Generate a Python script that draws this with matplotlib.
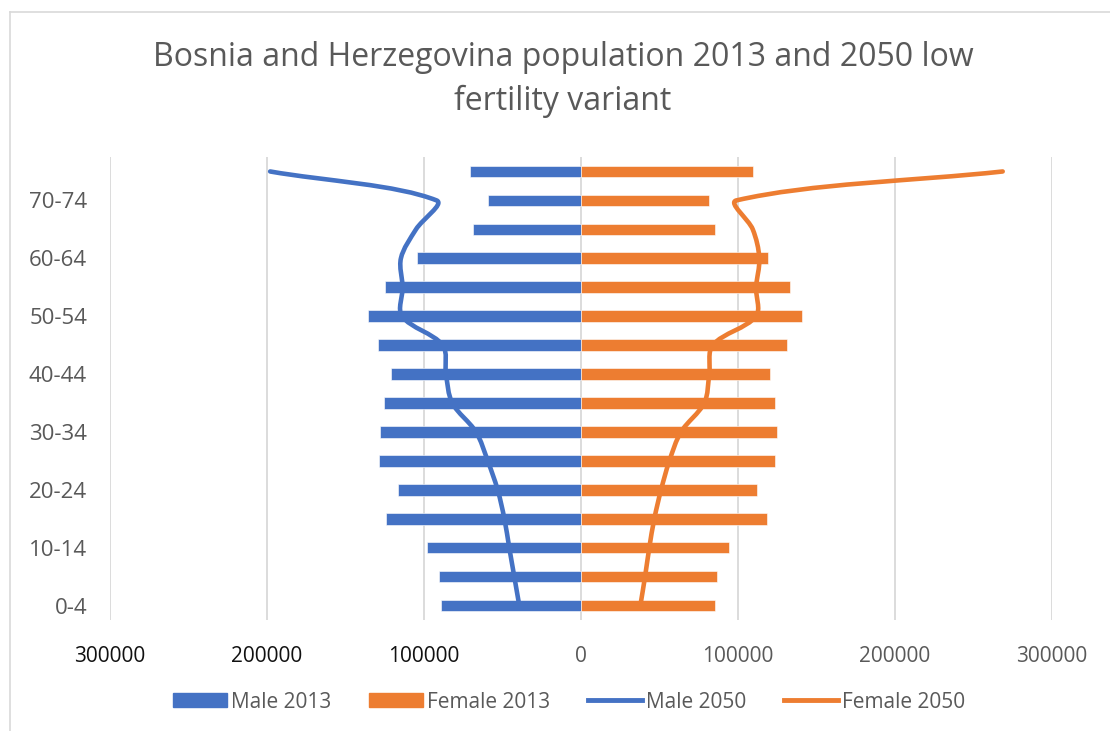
import numpy as np
import matplotlib
matplotlib.use('Agg')
import matplotlib.pyplot as plt
from matplotlib.path import Path
from matplotlib.patches import PathPatch, Patch
from matplotlib.lines import Line2D

# age groups, bottom to top
ages = ['0-4', '5-9', '10-14', '15-19', '20-24', '25-29', '30-34', '35-39',
        '40-44', '45-49', '50-54', '55-59', '60-64', '65-69', '70-74', '75+']
male2013 = [89000, 90500, 98100, 124200, 116400, 128700, 128200, 125700,
            121000, 129500, 135700, 125000, 104500, 68800, 59200, 70700]
female2013 = [85100, 86800, 94500, 118300, 111900, 123800, 124600, 123800,
              120200, 131400, 141000, 133300, 118900, 85100, 81300, 109400]
male2050 = [39300, 42500, 45700, 48800, 53100, 59400, 66900, 82000,
            86000, 88100, 114000, 113600, 114700, 105100, 92000, 198000]
female2050 = [37800, 40800, 43500, 46700, 51000, 56300, 63700, 78500,
              81700, 83900, 111500, 111500, 113600, 109400, 99000, 268600]
xticks = [-300000, -200000, -100000, 0, 100000, 200000, 300000]
xticklabels = ['300000', '200000', '100000', '0', '100000', '200000', '300000']

BLUE = '#4472C4'
ORANGE = '#ED7D31'
GREY = '#595959'
FONT = 'Open Sans'

# rough pixel size of one data unit, used only to shape the smoothing
XSCALE = 157 / 100000
YSCALE = 28.9


def smooth_path(xs, ys):
    # smoothed line through the points, chord-length cubic bezier like excel
    pts = np.column_stack([xs, ys]).astype(float)
    sc = np.array([XSCALE, YSCALE])
    q = pts * sc
    n = len(q)
    d = np.linalg.norm(np.diff(q, axis=0), axis=1)
    tang = np.zeros_like(q)
    for i in range(n):
        a = q[max(i - 1, 0)]
        b = q[min(i + 1, n - 1)]
        span = (d[i - 1] if i > 0 else 0) + (d[i] if i < n - 1 else 0)
        tang[i] = (b - a) / span
    verts = [pts[0]]
    codes = [Path.MOVETO]
    for i in range(n - 1):
        c1 = (q[i] + tang[i] * d[i] / 3) / sc
        c2 = (q[i + 1] - tang[i + 1] * d[i] / 3) / sc
        verts += [c1, c2, pts[i + 1]]
        codes += [Path.CURVE4] * 3
    return Path(verts, codes)


fig = plt.figure(figsize=(11.1, 7.31), dpi=100)
ax = fig.add_axes([110 / 1110, 1 - 620 / 731, 942 / 1110, 463 / 731])

y = np.arange(len(ages))
ax.barh(y, -np.array(male2013), height=0.4, color=BLUE, edgecolor='white', linewidth=0.4, zorder=2)
ax.barh(y, female2013, height=0.4, color=ORANGE, edgecolor='white', linewidth=0.4, zorder=2)

ax.add_patch(PathPatch(smooth_path(-np.array(male2050), y), fill=False, edgecolor=BLUE,
                       lw=3.3, capstyle='round', joinstyle='round', zorder=3))
ax.add_patch(PathPatch(smooth_path(female2050, y), fill=False, edgecolor=ORANGE,
                       lw=3.3, capstyle='round', joinstyle='round', zorder=3))

ax.set_xlim(-300000, 300000)
ax.set_ylim(-0.5, len(ages) - 0.5)
ax.set_xticks(xticks)
ax.set_xticklabels(xticklabels, fontsize=15, fontname=FONT)
for lbl, val in zip(ax.get_xticklabels(), xticks):
    lbl.set_color('#111111' if val < 0 else GREY)
ax.set_yticks(y[::2])
ax.set_yticklabels(ages[::2], fontsize=16, fontname=FONT, color=GREY)
ax.tick_params(axis='both', length=0)
ax.tick_params(axis='x', pad=19)
ax.tick_params(axis='y', pad=16.5)
ax.grid(axis='x', color='#d9d9d9', lw=1.3, zorder=0)
ax.set_axisbelow(True)
for s in ax.spines.values():
    s.set_visible(False)

fig.text(563 / 1110, 1 - 57 / 731, 'Bosnia and Herzegovina population 2013 and 2050 low',
         ha='center', va='center', fontsize=23, fontname=FONT, color=GREY)
fig.text(563 / 1110, 1 - 101 / 731, 'fertility variant',
         ha='center', va='center', fontsize=23, fontname=FONT, color=GREY)

# chart area border (cropped at right/bottom)
fig.add_artist(Line2D([9.5 / 1110, 9.5 / 1110], [-0.1, 1 - 12 / 731], transform=fig.transFigure,
                      color='#d9d9d9', lw=1.2))
fig.add_artist(Line2D([9.5 / 1110, 1.1], [1 - 12 / 731, 1 - 12 / 731], transform=fig.transFigure,
                      color='#d9d9d9', lw=1.2))

handles = [Patch(color=BLUE, label='Male 2013'),
           Patch(color=ORANGE, label='Female 2013'),
           Line2D([], [], color=BLUE, lw=3.5, label='Male 2050'),
           Line2D([], [], color=ORANGE, lw=3.5, label='Female 2050')]
leg = fig.legend(handles=handles, loc='center', bbox_to_anchor=(569 / 1110, 1 - 702 / 731),
                 ncol=4, frameon=False, handlelength=2.6, handleheight=0.65, handletextpad=0.2,
                 columnspacing=1.8, prop={'family': FONT, 'size': 15})
for t in leg.get_texts():
    t.set_color(GREY)

fig.savefig('out.png', dpi=100)
